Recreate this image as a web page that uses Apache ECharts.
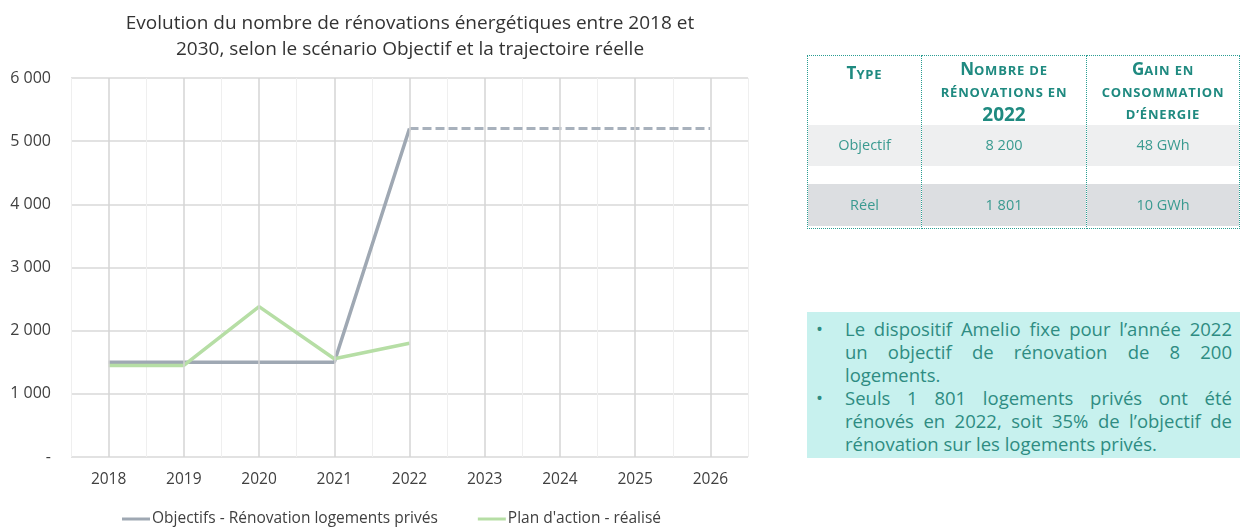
<!DOCTYPE html>
<html><head><meta charset="utf-8">
<script src="https://cdn.jsdelivr.net/npm/echarts@6/dist/echarts.min.js"></script>
<style>
html,body{margin:0;padding:0;background:#fff;width:1241px;height:532px;overflow:hidden;font-family:"Open Sans",sans-serif;}
#chart{position:absolute;left:0;top:0;width:1241px;height:532px;}
#tbl{position:absolute;left:807px;top:55px;width:433px;height:175px;}
.col{position:absolute;top:0;height:174px;border:1px dotted #2a9d92;box-sizing:border-box;}
.hd{position:absolute;left:0;right:0;top:0;text-align:center;color:#1f8a80;font-weight:bold;font-size:13px;line-height:22px;letter-spacing:0.8px;text-transform:uppercase;}
.hd .cap{font-size:17px;letter-spacing:0;}
.hd .big{font-size:19px;letter-spacing:0;}
.r1{position:absolute;left:0;right:0;top:69px;height:41px;background:#eeeff0;}
.r2{position:absolute;left:0;right:0;top:128px;height:42px;background:#dcdee1;}
.cell{position:absolute;left:0;right:0;text-align:center;color:#3a9a90;font-size:14.5px;line-height:20px;}
#box{position:absolute;left:807px;top:312px;width:433px;height:146px;background:#c7f1ee;box-sizing:border-box;padding:5px 8px 0 0;}
.item{position:relative;padding-left:38px;color:#2e8c82;font-size:18.5px;line-height:23px;}
.item:before{content:"•";position:absolute;left:9px;top:0;}
.ln{display:block;white-space:nowrap;}
.ln.j{text-align:justify;text-align-last:justify;}
</style></head>
<body>
<div id="chart"></div>
<div id="tbl"></div>
<div id="box"></div>
<script>
var categories = ['2018','2019','2020','2021','2022','2023','2024','2025','2026'];
var objectifs = [1500, 1500, 1500, 1500, 5200, null, null, null, null];
var objectifsProjection = [null, null, null, null, 5200, 5200, 5200, 5200, 5200];
var realise = [1450, 1450, 2380, 1555, 1801, null, null, null, null];
var yTicks = [0, 1000, 2000, 3000, 4000, 5000, 6000];
var titleText = "Evolution du nombre de rénovations énergétiques entre 2018 et\n2030, selon le scénario Objectif et la trajectoire réelle";
var seriesNames = ['Objectifs - Rénovation logements privés', "Plan d'action - réalisé"];
var tableHeaders = [
  '<span class="cap">T</span>ype',
  '<span class="cap">N</span>ombre de<br>rénovations en<br><span class="big">2022</span>',
  '<span class="cap">G</span>ain en<br>consommation<br>d’énergie'
];
var tableRowLabels = ['Objectif', 'Réel'];
var tableRenov = ['8 200', '1 801'];
var tableGain = ['48 GWh', '10 GWh'];
var bulletLines = [
  ["Le dispositif Amelio fixe pour l’année 2022", "un objectif de rénovation de 8 200", "logements."],
  ["Seuls 1 801 logements privés ont été", "rénovés en 2022, soit 35% de l’objectif de", "rénovation sur les logements privés."]
];

var fmt = function(v){ if(v===0) return '-'; return String(v).replace(/\B(?=(\d{3})+(?!\d))/g,' '); };

var chart = echarts.init(document.getElementById('chart'), null, {renderer:'canvas'});
chart.setOption({
  animation:false,
  textStyle:{fontFamily:'"Open Sans", sans-serif'},
  title:{text:titleText, left:405, top:6, textAlign:'center',
    textStyle:{fontSize:19, fontWeight:'normal', color:'#333', lineHeight:26, fontFamily:'"Open Sans", sans-serif'}},
  grid:{left:71, right:493, top:78, bottom:75, containLabel:false},
  legend:{bottom:0, left:117, itemGap:40, itemWidth:28, itemHeight:3, icon:'rect',
    data:seriesNames, textStyle:{fontSize:15.5, color:'#404040', padding:[0,0,0,-3]}},
  xAxis:{type:'category', data:categories, boundaryGap:true,
    axisLine:{show:false}, axisTick:{show:false},
    axisLabel:{fontSize:15.5, color:'#404040', margin:15},
    splitLine:{show:true, lineStyle:{color:'#efefef', width:1}}},
  yAxis:{type:'value', min:yTicks[0], max:yTicks[yTicks.length-1], interval:1000,
    axisLine:{show:false}, axisTick:{show:false},
    axisLabel:{fontSize:16, color:'#404040', margin:20, formatter:fmt},
    splitLine:{lineStyle:{color:'#d9d9d9', width:1.5}}},
  series:[
    {name:seriesNames[0], type:'line', data:objectifs, symbol:'none', z:3,
      lineStyle:{color:'#9fa8b3', width:3.5}, itemStyle:{color:'#9fa8b3'},
      markLine:{silent:true, symbol:'none', label:{show:false}, animation:false,
        lineStyle:{color:'#d4d4d4', width:1.5, type:'solid'},
        data:categories.map(function(c){return {xAxis:c};})}},
    {name:'projection', type:'line', data:objectifsProjection, symbol:'none', z:3,
      lineStyle:{color:'#a8b1bc', width:3, type:[9,4]}},
    {name:seriesNames[1], type:'line', data:realise, symbol:'none', z:4,
      lineStyle:{color:'#b6dea5', width:3.5}, itemStyle:{color:'#b6dea5'}}
  ]
});

// table
var cols = [{l:0,w:115},{l:114,w:166},{l:279,w:154}];
var colData = [tableRowLabels, tableRenov, tableGain];
var tbl = document.getElementById('tbl');
cols.forEach(function(c,i){
  var d = document.createElement('div');
  d.className='col'; d.style.left=c.l+'px'; d.style.width=c.w+'px';
  var hdTop = i===0 ? 6 : 2;
  d.innerHTML = '<div class="r1"></div><div class="r2"></div>'+
    '<div class="hd" style="top:'+hdTop+'px">'+tableHeaders[i]+'</div>'+
    '<div class="cell" style="top:79px">'+colData[i][0]+'</div>'+
    '<div class="cell" style="top:139px">'+colData[i][1]+'</div>';
  tbl.appendChild(d);
});
document.getElementById('box').innerHTML = bulletLines.map(function(lines){
  return '<div class="item">'+lines.map(function(l,k){
    return '<span class="ln'+(k<lines.length-1?' j':'')+'">'+l+'</span>';
  }).join('')+'</div>';
}).join('');
</script>
</body></html>
